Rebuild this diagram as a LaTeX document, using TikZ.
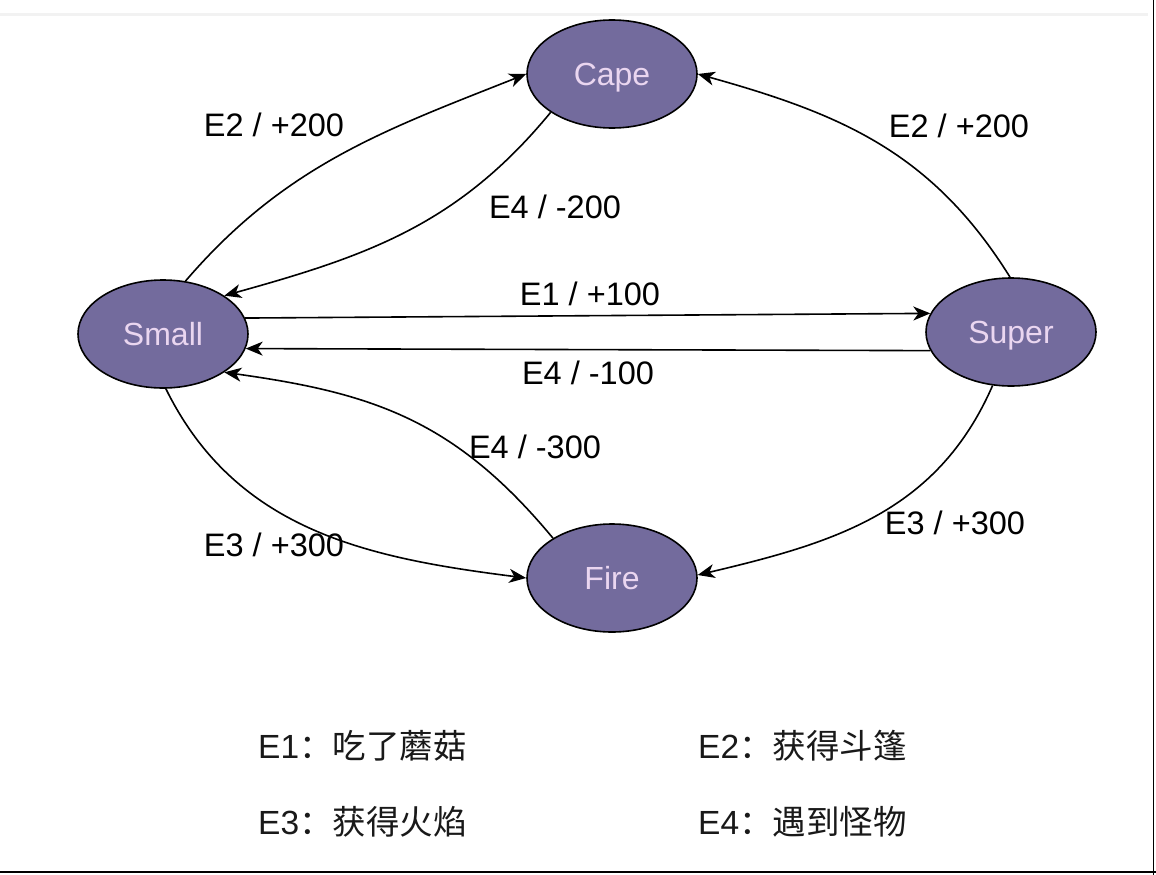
\documentclass[tikz,border=0pt]{standalone}
\usepackage{fontspec}
\setmainfont{Liberation Sans}
\newfontfamily\cjk{Noto Sans CJK SC}
\usetikzlibrary{shapes.geometric,arrows.meta}
\definecolor{statefill}{RGB}{115,107,157}
\definecolor{statetext}{RGB}{234,214,240}
\definecolor{topline}{RGB}{242,242,242}
\tikzset{
  state/.style={ellipse,draw=black,line width=1.6pt,fill=statefill,
    minimum width=170pt,minimum height=108pt,inner sep=0pt,
    text height=25pt,text depth=3pt,
    text=statetext,font=\fontsize{32}{38}\selectfont},
  lbl/.style={font=\fontsize{32.5}{38}\selectfont,inner sep=0pt,text=black},
  leg/.style={font=\fontsize{33.5}{40}\selectfont,inner sep=0pt,anchor=west,text=black!90},
  trans/.style={line width=1.6pt,-{Stealth[length=17pt,width=14pt,inset=5pt]}}
}
\begin{document}
\begin{tikzpicture}[x=1pt,y=-1pt]
\useasboundingbox (0,0) rectangle (1156,875);
\fill[white] (0,0) rectangle (1156,875);
% frame
\draw[topline,line width=3pt] (0,15) -- (1148,15);
\draw[black,line width=1.5pt] (1153.5,0) -- (1153.5,875);
\draw[black,line width=1.5pt] (0,872) -- (1156,872);
% states
\node[state] (c) at (612,74) {Cape};
\node[state] (s) at (163,334) {Small};
\node[state] (u) at (1011,332) {Super};
\node[state] (f) at (612,578) {Fire};
% transitions
\draw[trans] (s.67) .. controls (285,165) and (385,130) .. (c.180);
\draw[trans] (c.212) .. controls (458,225) and (367,256) .. (s.32);
\draw[trans] (s.11) -- (u.167);
\draw[trans] (u.193) -- (s.350);
\draw[trans] (f.146) .. controls (455,420) and (373,393) .. (s.328);
\draw[trans] (s.273) .. controls (236,531) and (368,558) .. (f.180);
\draw[trans] (u.91) .. controls (932,152) and (841,114) .. (c.0);
\draw[trans] (u.251) .. controls (937,513) and (833,543) .. (f.2);
% labels
\node[lbl] (l1) at (274,125) {E2 / +200};
\node[lbl] (l2) at (555,207) {E4 / -200};
\node[lbl] (l3) at (590,294) {E1 / +100};
\node[lbl] (l4) at (588,373) {E4 / -100};
\node[lbl] (l5) at (535,447) {E4 / -300};
\node[lbl] (l6) at (274,545) {E3 / +300};
\node[lbl] (l7) at (959,126) {E2 / +200};
\node[lbl] (l8) at (955,523) {E3 / +300};
% legend
\node[leg] (g1) at (258,746) {E1{\cjk：吃了蘑菇}};
\node[leg] (g2) at (698,746) {E2{\cjk：获得斗篷}};
\node[leg] (g3) at (258,822) {E3{\cjk：获得火焰}};
\node[leg] (g4) at (698,822) {E4{\cjk：遇到怪物}};
\end{tikzpicture}
\end{document}
